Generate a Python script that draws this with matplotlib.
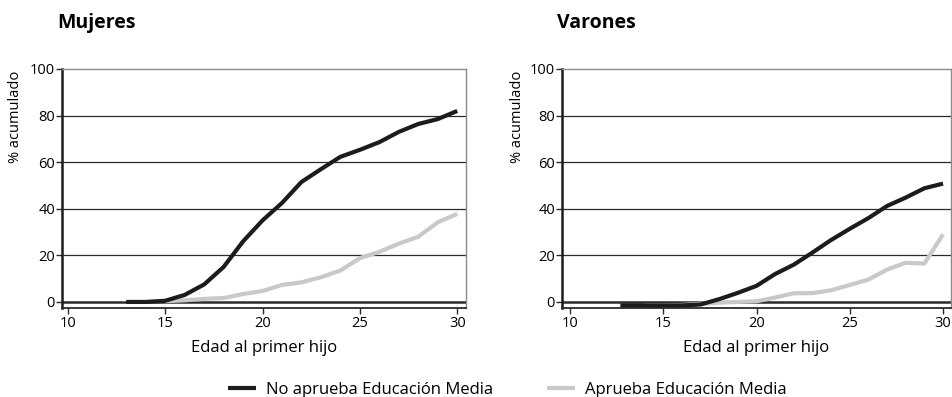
import matplotlib.pyplot as plt

plt.rcParams['font.family'] = ['Open Sans', 'DejaVu Sans']

# edades (años) y % acumulado con primer hijo
edad_muj_no = [13, 14, 15, 16, 17, 18, 19, 20, 21, 22, 23, 24, 25, 26, 27, 28, 29, 30]
muj_no = [0, 0, 0.5, 3, 7.5, 15, 26, 35, 42.5, 51.5, 57, 62.3, 65.3, 68.6, 73, 76.4, 78.5, 82]
edad_muj_si = [15, 16, 17, 18, 19, 20, 21, 22, 23, 24, 25, 26, 27, 28, 29, 30]
muj_si = [0.3, 0.7, 1.3, 1.7, 3.4, 4.7, 7.3, 8.4, 10.6, 13.5, 18.8, 21.5, 25, 28, 34.2, 37.8]

edad_var_no = [12.7, 13, 14, 15, 16, 17, 18, 19, 20, 21, 22, 23, 24, 25, 26, 27, 28, 29, 30]
var_no = [-1.5, -1.5, -1.5, -1.5, -1.5, -1.1, 1.2, 3.9, 6.9, 12, 16, 21.2, 26.6, 31.4, 36, 41.2, 44.8, 48.8, 50.8]
edad_var_si = [14, 15, 16, 17, 18, 19, 20, 21, 22, 23, 24, 25, 26, 27, 28, 29, 30]
var_si = [-1.5, -1.5, -1.3, -0.8, -0.3, 0, 0.3, 1.9, 3.7, 3.8, 5, 7.3, 9.6, 13.9, 16.8, 16.5, 29]

yticks = [0, 20, 40, 60, 80, 100]
xticks = [10, 15, 20, 25, 30]

negro = '#1e1b1c'
gris = '#c9c9c9'

fig = plt.figure(figsize=(9.52, 3.97), dpi=100)
ax1 = fig.add_axes([0.0651, 0.2242, 0.4244, 0.602])
ax2 = fig.add_axes([0.5903, 0.2242, 0.4087, 0.602])

paneles = [
    (ax1, 'Mujeres', (9.7, 30.45), edad_muj_no, muj_no, edad_muj_si, muj_si),
    (ax2, 'Varones', (9.57, 30.43), edad_var_no, var_no, edad_var_si, var_si),
]

for ax, titulo, xlim, x_no, y_no, x_si, y_si in paneles:
    for v in [20, 40, 60, 80]:
        ax.axhline(v, color='#2b2b2b', lw=0.9, zorder=1)
    ax.axhline(0, color='#2b2b2b', lw=1.8, zorder=1)
    l1, = ax.plot(x_no, y_no, color=negro, lw=3, solid_capstyle='butt', zorder=3,
                  label='No aprueba Educación Media')
    l2, = ax.plot(x_si, y_si, color=gris, lw=3, solid_capstyle='butt', zorder=2,
                  label='Aprueba Educación Media')
    ax.set_xlim(*xlim)
    ax.set_ylim(-2.6, 100)
    ax.set_xticks(xticks)
    ax.set_yticks(yticks)
    ax.tick_params(axis='both', labelsize=10.5, length=4, width=1, color='#2b2b2b', pad=1)
    ax.tick_params(axis='x', pad=2)
    for s in ['top', 'right']:
        ax.spines[s].set_color('#8a8a8a')
        ax.spines[s].set_linewidth(1)
    ax.spines['left'].set_color(negro)
    ax.spines['left'].set_linewidth(1.8)
    ax.spines['bottom'].set_color('#2b2b2b')
    ax.spines['bottom'].set_linewidth(1.3)
    ax.set_xlabel('Edad al primer hijo', fontsize=12, labelpad=6)
    ax.set_ylabel('% acumulado', fontsize=10.5)
    ax.set_title(titulo, fontsize=14, fontweight='bold', loc='left', x=-0.012, y=1.135)

ax1.yaxis.set_label_coords(-0.097, 0.8)
ax2.yaxis.set_label_coords(-0.095, 0.8)

fig.legend(handles=[l1, l2], loc='lower center', bbox_to_anchor=(0.533, -0.04), ncol=2,
           frameon=False, fontsize=12, handlelength=1.7, columnspacing=3.2, handletextpad=0.6)

plt.savefig('out.png', dpi=100)
